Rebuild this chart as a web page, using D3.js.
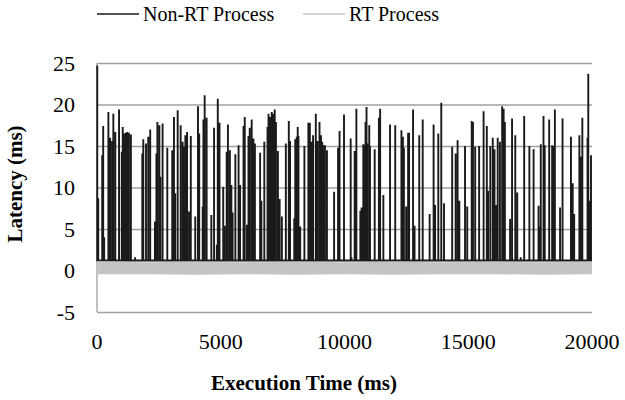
<!DOCTYPE html>
<html>
<head>
<meta charset="utf-8">
<script src="https://cdn.jsdelivr.net/npm/d3@7"></script>
<style>
	body { margin: 0; background: #fff; }
	svg { display: block; }
	svg text { font-family: "Liberation Serif", serif; }
</style>
</head>
<body>
<div id="chart"></div>
<script>
// spikes of the non-RT process (ms, latency ms)
const spikeTimes = [10, 50, 210, 250, 290, 460, 530, 610, 660, 740, 890, 1000, 1040, 1100, 1160, 1220, 1290, 1370, 1540,
	1830, 1870, 1980, 2070, 2150, 2340, 2400, 2440, 2520, 2560, 2650, 2840, 3040, 3110, 3160, 3260, 3380, 3460, 3510,
	3570, 3640, 3720, 3790, 3970, 4080, 4130, 4270, 4300, 4350, 4430, 4620, 4730, 4840, 4880, 4950, 5100, 5160, 5240,
	5290, 5370, 5430, 5480, 5590, 5720, 5780, 5920, 5970, 6060, 6120, 6170, 6250, 6320, 6380, 6590, 6640, 6760, 6890,
	6930, 7000, 7060, 7120, 7180, 7230, 7310, 7380, 7470, 7630, 7750, 7800, 7970, 8010, 8070, 8110, 8140, 8170, 8210,
	8380, 8540, 8600, 8660, 8730, 8840, 8910, 8990, 9050, 9100, 9170, 9210, 9290, 9580, 9740, 9800, 9980, 10250, 10280,
	10410, 10480, 10640, 10690, 10760, 10800, 10850, 10890, 10920, 11000, 11030, 11220, 11390, 11440, 11570, 11840,
	12050, 12300, 12360, 12400, 12490, 12570, 12610, 12770, 12830, 13020, 13160, 13440, 13600, 13660, 13790, 13910,
	14020, 14350, 14490, 14570, 14640, 14870, 14960, 15140, 15190, 15280, 15440, 15620, 15750, 15800, 15890, 15990,
	16060, 16130, 16190, 16280, 16370, 16430, 16480, 16690, 16770, 16900, 16980, 17120, 17260, 17470, 17640, 17840,
	17890, 17930, 18040, 18090, 18270, 18390, 18430, 18500, 18710, 18810, 19150, 19220, 19280, 19490, 19550, 19610,
	19820, 19850, 19890, 19960]
const spikeLatency = [24.7, 8.7, 13.9, 17.4, 4.0, 19.1, 16.0, 15.6, 18.9, 16.7, 19.4, 14.3, 17.3, 16.5, 16.6, 16.7, 16.6, 16.4, 1.6,
	14.1, 15.8, 15.3, 16.1, 17.0, 5.9, 14.1, 17.9, 17.5, 11.3, 17.7, 14.8, 14.5, 18.5, 9.3, 19.3, 17.5, 15.5, 14.9,
	16.3, 16.7, 7.1, 16.2, 6.5, 19.8, 16.5, 7.7, 18.2, 21.1, 18.4, 6.7, 17.2, 3.1, 20.7, 17.8, 10.1, 5.4, 14.3,
	17.6, 14.5, 10.3, 7.0, 14.0, 15.1, 10.3, 17.4, 18.5, 5.5, 16.2, 17.2, 18.2, 15.9, 15.3, 14.2, 8.4, 15.5, 17.3,
	18.9, 18.5, 19.1, 18.9, 19.4, 17.9, 14.4, 8.6, 6.5, 15.3, 18.0, 15.6, 6.3, 15.8, 16.1, 17.3, 16.2, 5.3, 5.3,
	15.0, 17.8, 17.8, 15.5, 16.3, 18.9, 15.6, 17.9, 16.3, 15.5, 15.1, 15.1, 14.5, 9.5, 14.8, 16.8, 18.8, 15.9, 1.6,
	14.4, 19.5, 7.2, 7.6, 15.2, 15.1, 17.9, 19.7, 15.3, 17.5, 15.0, 14.6, 18.4, 19.5, 9.1, 17.6,
	17.5, 16.9, 16.1, 14.8, 7.7, 16.6, 16.6, 19.4, 5.4, 16.3, 18.2, 6.8, 17.6, 7.9, 16.5, 20.2,
	8.1, 14.9, 14.1, 15.7, 8.4, 15.0, 7.7, 18.0, 17.9, 14.9, 15.0, 19.2, 17.4, 9.6, 15.0, 16.0,
	14.6, 7.9, 16.0, 15.5, 19.8, 19.5, 17.9, 6.2, 18.3, 16.3, 9.4, 1.6, 18.6, 15.0, 14.6, 7.8,
	5.3, 15.2, 18.6, 15.1, 18.2, 15.1, 15.0, 19.4, 7.6, 18.3, 16.1, 10.5, 6.8, 16.3, 13.7, 18.4,
	16.0, 23.7, 8.4, 13.9]
const nonRtBase = 1.2

// RT process band, read as low/high envelope every 2000 ms
const rtTimes = [0, 2000, 4000, 6000, 8000, 10000, 12000, 14000, 16000, 18000, 20000]
const rtHigh = [1.1, 1.0, 1.05, 1.0, 1.05, 1.0, 1.05, 1.0, 1.05, 1.0, 1.05]
const rtLow = [-0.45, -0.45, -0.5, -0.45, -0.5, -0.45, -0.5, -0.45, -0.45, -0.5, -0.45]

const xTicks = [0, 5000, 10000, 15000, 20000]
const yTicks = [-5, 0, 5, 10, 15, 20, 25]
const seriesNames = ["Non-RT Process", "RT Process"]
const seriesColors = ["#1a1a1a", "#c4c4c4"]
const fontFamily = "Liberation Serif, serif"

class LatencyChart {
	constructor(container) {
		this.width = 625
		this.height = 400
		this.plot = { left: 97, right: 592, top: 63, bottom: 312 }
		this.x = d3.scaleLinear().domain([0, 20000]).range([this.plot.left, this.plot.right])
		this.y = d3.scaleLinear().domain([-5, 25]).range([this.plot.bottom, this.plot.top])
		this.svg = d3.select(container).append("svg")
			.attr("width", this.width)
			.attr("height", this.height)
			.attr("font-family", fontFamily)

		this.drawGrid()
		this.drawNonRt()
		this.drawRt()
		this.drawAxes()
		this.drawLegend()
	}

	drawGrid() {
		const yAxis = d3.axisLeft(this.y).tickValues(yTicks)
			.tickSize(-(this.plot.right - this.plot.left)).tickFormat("")
		const g = this.svg.append("g")
			.attr("transform", "translate(" + this.plot.left + ",0)")
			.call(yAxis)
		g.select(".domain").remove()
		g.selectAll(".tick line").attr("stroke", "#a0a0a0").attr("stroke-width", 1.3)

		this.svg.append("line")
			.attr("x1", this.plot.left).attr("x2", this.plot.left)
			.attr("y1", this.y(-5)).attr("y2", this.y(25))
			.attr("stroke", "#a0a0a0").attr("stroke-width", 1.3)
	}

	drawNonRt() {
		const points = []
		points.push([0, nonRtBase])
		spikeTimes.forEach((t, i) => {
			points.push([t, nonRtBase], [t, spikeLatency[i]], [t, nonRtBase])
		})
		points.push([20000, nonRtBase])
		const line = d3.line().x(d => this.x(d[0])).y(d => this.y(d[1]))
		this.svg.append("path")
			.attr("d", line(points))
			.attr("fill", "none")
			.attr("stroke", seriesColors[0])
			.attr("stroke-width", 1.9)
	}

	drawRt() {
		const area = d3.area()
			.x((d, i) => this.x(rtTimes[i]))
			.y0((d, i) => this.y(rtLow[i]))
			.y1((d, i) => this.y(rtHigh[i]))
		this.svg.append("path")
			.attr("d", area(rtTimes))
			.attr("fill", seriesColors[1])
	}

	drawAxes() {
		this.svg.append("g").selectAll("text")
			.data(yTicks).join("text")
			.attr("x", 75)
			.attr("y", d => this.y(d))
			.attr("dy", "0.36em")
			.attr("text-anchor", "end")
			.attr("font-family", fontFamily)
			.attr("font-size", 22)
			.text(d => d)

		this.svg.append("g").selectAll("text")
			.data(xTicks).join("text")
			.attr("x", d => this.x(d))
			.attr("y", 349)
			.attr("text-anchor", "middle")
			.attr("font-family", fontFamily)
			.attr("font-size", 22)
			.text(d => d)

		this.svg.append("text")
			.attr("x", 304).attr("y", 390)
			.attr("text-anchor", "middle")
			.attr("font-family", fontFamily)
			.attr("font-size", 21)
			.attr("font-weight", "bold")
			.text("Execution Time (ms)")

		this.svg.append("text")
			.attr("transform", "translate(22,184) rotate(-90)")
			.attr("text-anchor", "middle")
			.attr("font-family", fontFamily)
			.attr("font-size", 21)
			.attr("font-weight", "bold")
			.text("Latency (ms)")
	}

	drawLegend() {
		const items = [{ x: 97, name: seriesNames[0], color: seriesColors[0] },
			{ x: 303, name: seriesNames[1], color: seriesColors[1] }]
		const g = this.svg.append("g").selectAll("g")
			.data(items).join("g")
			.attr("transform", d => "translate(" + d.x + ",14)")
		g.append("line")
			.attr("x1", 0).attr("x2", 42)
			.attr("stroke", d => d.color)
			.attr("stroke-width", 1.5)
		g.append("text")
			.attr("x", 46).attr("dy", "0.33em")
			.attr("font-family", fontFamily)
			.attr("font-size", 20)
			.text(d => d.name)
	}
}

new LatencyChart("#chart")
</script>
</body>
</html>
